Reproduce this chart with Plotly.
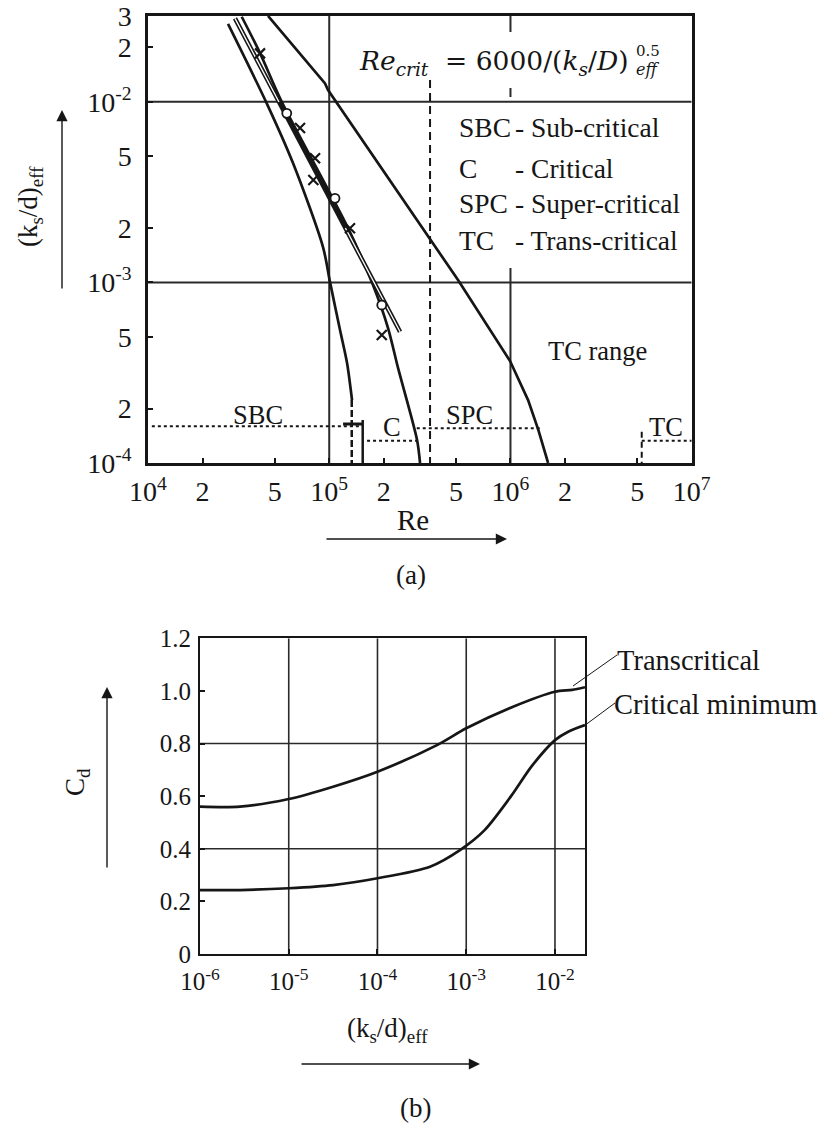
import plotly.graph_objects as go

W, H = 818, 1126
INK = "#161616"
GRID = "#2a2a2a"
FONT = "Liberation Serif, Times New Roman, Times, serif"
MATH_FONT = "DejaVu Serif, serif"

# ---------------- panel (a): effective roughness vs Reynolds number ----------------
# sub-critical / critical boundary curve
sbc_re = [27640, 45400, 63100, 92400, 101000, 114700, 125400, 133600]
sbc_k = [0.0270, 0.00972, 0.00458, 0.00157, 0.001005, 0.000545, 0.000358, 0.000223]
sbc_tail_re = [133100, 133100]
sbc_tail_k = [0.000223, 0.0001]

# straight Re_crit line through the measurements (drawn as a hollow stroke)
recrit_re = [30200, 245900]
recrit_k = [0.0290, 0.000533]
hollow_top_re = [30200, 52800]
hollow_top_k = [0.0290, 0.00998]
hollow_low_re = [122800, 245900]
hollow_low_k = [0.00200, 0.000533]

# critical / super-critical boundary curve
crit_re = [32900, 41500, 54700, 127000, 174400, 211100, 239700, 305200, 317000]
crit_k = [0.0296, 0.01863, 0.01001, 0.00200, 0.000967, 0.000559, 0.000336, 0.0001341, 0.0001]

# super-critical / trans-critical boundary curve
spc_re = [45950, 94800, 98500, 513800, 995000, 1251000, 1426000, 1613000]
spc_k = [0.0299, 0.01266, 0.01162, 0.001031, 0.000367, 0.000223, 0.000152, 0.0001]

# measured points
circle_re = [28970, 58300, 107600, 194900]
circle_k = [0.0300, 0.008635, 0.002923, 0.000750]
cross_re = [41500, 69000, 83500, 81700, 130200, 194900]
cross_k = [0.01856, 0.00716, 0.00487, 0.00369, 0.001993, 0.000511]

# regime bands along the bottom of the chart
sbc_band_re, sbc_band_k = [10500, 153000], [1.60e-4, 1.60e-4]
c_band_re, c_band_k = [161700, 304000], [1.33e-4, 1.33e-4]
spc_band_re, spc_band_k = [304000, 1457000], [1.56e-4, 1.56e-4]
tc_band_re, tc_band_k = [5.3e6, 1e7], [1.33e-4, 1.33e-4]

# vertical markers
recrit_mark_re, recrit_mark_k = [3.6e5, 3.6e5], [0.0132, 1e-4]
tc_mark_re, tc_mark_k = [5.3e6, 5.3e6], [1.49e-4, 1e-4]
onset_bar_re, onset_bar_k = [119200, 153000], [1.644e-4, 1.644e-4]
onset_post_re, onset_post_k = [153000, 153000], [1.73e-4, 1e-4]

# grid
re_min, re_max = 1e4, 1e7
k_min, k_max = 1e-4, 0.03
k_grid = [1e-2, 1e-3]
re_grid_full = 1e5
re_grid_1e6_parts = [[0.030, 0.02435], [0.01192, 0.01063], [0.001201, 1e-4]]

re_ticks = [1e4, 2e4, 5e4, 1e5, 2e5, 5e5, 1e6, 2e6, 5e6, 1e7]
re_ticktext = ["10<sup>4</sup>", "2", "5", "10<sup>5</sup>", "2", "5",
               "10<sup>6</sup>", "2", "5", "10<sup>7</sup>"]
k_ticks = [1e-4, 2e-4, 5e-4, 1e-3, 2e-3, 5e-3, 1e-2, 2e-2, 3e-2]
k_ticktext = ["10<sup>-4</sup>", "2", "5", "10<sup>-3</sup>", "2", "5",
              "10<sup>-2</sup>", "2", "3"]

# ---------------- panel (b): drag coefficient vs roughness ----------------
trans_ks = [1e-6, 2.82e-6, 1e-5, 3.16e-5, 1e-4, 4.68e-4, 1e-3, 3.37e-3, 1e-2, 1.56e-2, 2.18e-2]
trans_cd = [0.560, 0.560, 0.589, 0.636, 0.693, 0.794, 0.858, 0.940, 0.997, 1.004, 1.014]
crit_ks = [1e-6, 2.82e-6, 1e-5, 3.16e-5, 1e-4, 3.91e-4, 8.5e-4, 1.6e-3, 3.2e-3, 5.5e-3, 1e-2, 1.41e-2, 2.18e-2]
crit_cd = [0.243, 0.243, 0.250, 0.262, 0.288, 0.332, 0.395, 0.470, 0.600, 0.715, 0.813, 0.845, 0.870]

ks_min, ks_max = 1e-6, 2.18e-2
ks_grid = [1e-5, 1e-4, 1e-3, 1e-2]
cd_grid = [0.4, 0.8]
ks_ticks = [1e-6, 1e-5, 1e-4, 1e-3, 1e-2]
ks_ticktext = ["10<sup>-6</sup>", "10<sup>-5</sup>", "10<sup>-4</sup>",
               "10<sup>-3</sup>", "10<sup>-2</sup>"]
cd_ticks = [0, 0.2, 0.4, 0.6, 0.8, 1.0, 1.2]
cd_ticktext = ["0", "0.2", "0.4", "0.6", "0.8", "1.0", "1.2"]

fig = go.Figure()


def line(xs, ys, axes, width=2.5, color=INK, dash=None, shape="linear"):
    xa, ya = axes
    fig.add_trace(go.Scatter(
        x=xs, y=ys, xaxis=xa, yaxis=ya, mode="lines",
        line=dict(color=color, width=width, dash=dash, shape=shape, smoothing=0.8),
        hoverinfo="skip", showlegend=False))


A = ("x", "y")
B = ("x2", "y2")

# panel (a) grid
for kg in k_grid:
    line([re_min, re_max], [kg, kg], A, width=2, color=GRID)
line([re_grid_full, re_grid_full], [k_min, k_max], A, width=2, color=GRID)
for part in re_grid_1e6_parts:
    line([1e6, 1e6], part, A, width=2, color=GRID)

# panel (a) curves
line(sbc_re, sbc_k, A, width=2.7, shape="spline")
line(sbc_tail_re, sbc_tail_k, A, width=2.5, dash="7px,3px")
line(crit_re, crit_k, A, width=2.7, shape="spline")
line(spc_re, spc_k, A, width=2.7)
line(recrit_re, recrit_k, A, width=4.5)
line(hollow_top_re, hollow_top_k, A, width=1.3, color="white")
line(hollow_low_re, hollow_low_k, A, width=1.3, color="white")

# regime bands and markers
for bx, by in [(sbc_band_re, sbc_band_k), (c_band_re, c_band_k),
               (spc_band_re, spc_band_k), (tc_band_re, tc_band_k)]:
    line(bx, by, A, width=2, dash="dot")
line(recrit_mark_re, recrit_mark_k, A, width=2, dash="8px,5px")
line(tc_mark_re, tc_mark_k, A, width=2, dash="6px,4px")
line(onset_bar_re, onset_bar_k, A, width=3)
line(onset_post_re, onset_post_k, A, width=2.5)

fig.add_trace(go.Scatter(
    x=circle_re, y=circle_k, mode="markers", xaxis="x", yaxis="y",
    marker=dict(symbol="circle", size=9, color="white", line=dict(color=INK, width=1.8)),
    hoverinfo="skip", showlegend=False, cliponaxis=False))
fig.add_trace(go.Scatter(
    x=cross_re, y=cross_k, mode="markers", xaxis="x", yaxis="y",
    marker=dict(symbol="x-thin-open", size=10, color=INK, line=dict(color=INK, width=2.2)),
    hoverinfo="skip", showlegend=False))

# panel (b) grid
for g in ks_grid:
    line([g, g], [0, 1.2], B, width=1.6, color=GRID)
for g in cd_grid:
    line([ks_min, ks_max], [g, g], B, width=1.6, color=GRID)

# panel (b) curves
line(trans_ks, trans_cd, B, width=2.7, shape="spline")
line(crit_ks, crit_cd, B, width=2.7, shape="spline")

axis_common = dict(showline=True, mirror=True, linecolor=INK, showgrid=False,
                   zeroline=False, ticks="inside", tickcolor=INK, tickwidth=2,
                   ticklen=5, automargin=False)

fig.update_layout(
    template="none",
    width=W, height=H, autosize=False,
    margin=dict(l=0, r=0, t=0, b=0, pad=0),
    paper_bgcolor="white", plot_bgcolor="white",
    font=dict(family=FONT, color=INK),
    showlegend=False,
    xaxis=dict(type="log", range=[4, 7], domain=[148 / W, 691.7 / W], anchor="y",
               tickvals=re_ticks, ticktext=re_ticktext, linewidth=2.5,
               tickfont=dict(size=28, family=FONT, color=INK), ticklabelstandoff=2,
               **axis_common),
    yaxis=dict(type="log", range=[-4, -1.5229], domain=[1 - 463 / H, 1 - 15.7 / H], anchor="x",
               tickvals=k_ticks, ticktext=k_ticktext, linewidth=2.5,
               tickfont=dict(size=28, family=FONT, color=INK), ticklabelstandoff=8,
               **axis_common),
    xaxis2=dict(type="log", range=[-6, -1.6616], domain=[200 / W, 585 / W], anchor="y2",
                tickvals=ks_ticks, ticktext=ks_ticktext, linewidth=2,
                tickfont=dict(size=25, family=FONT, color=INK), ticklabelstandoff=4,
                **axis_common),
    yaxis2=dict(range=[0, 1.2], domain=[1 - 954 / H, 1 - 638.3 / H], anchor="x2",
                tickvals=cd_ticks, ticktext=cd_ticktext, linewidth=2,
                tickfont=dict(size=25, family=FONT, color=INK), ticklabelstandoff=2,
                **axis_common),
)


def text(t, px, py, size=26, xanchor="center", angle=0, family=FONT):
    fig.add_annotation(text=t, x=px / W, y=1 - py / H, xref="paper", yref="paper",
                       xanchor=xanchor, yanchor="middle", showarrow=False,
                       textangle=angle, font=dict(size=size, family=family, color=INK))


def arrow(hx, hy, tx, ty):
    fig.add_annotation(text="", x=hx / W, y=1 - hy / H, xref="paper", yref="paper",
                       ax=tx - hx, ay=ty - hy, showarrow=True, arrowhead=2,
                       arrowsize=1.6, arrowwidth=1.4, arrowcolor=INK)


NB = "\u00a0"

# panel (a) labels
text("(k<sub>s</sub>/d)<sub>eff</sub>", 30, 207, 27, angle=-90)
arrow(62, 110, 62, 290)
text("Re", 413, 520, 29)
arrow(507, 539, 325, 539)
text("(a)", 411, 575, 27)

text("<i>Re</i><sub><i>crit</i></sub>" + NB * 2 + "=" + NB
     + "6000/(<i>k</i><sub><i>s</i></sub>/<i>D</i>)",
     357, 62, 26.5, xanchor="left", family=MATH_FONT)
text("0.5", 634, 51, 15, xanchor="left", family=MATH_FONT)
text("<i>eff</i>", 634, 70, 16, xanchor="left", family=MATH_FONT)

legend_rows = [("SBC", "- Sub-critical", 128), ("C", "- Critical", 168),
               ("SPC", "- Super-critical", 204), ("TC", "- Trans-critical", 241)]
for abbr, desc, py in legend_rows:
    text(abbr, 457, py, 27.5, xanchor="left")
    text(desc, 513, py, 27.5, xanchor="left")

text("SBC", 258, 415, 26.5)
text("C", 392, 427, 26.5)
text("SPC", 469, 415, 26.5)
text("TC", 666, 427, 26.5)
text("TC range", 597, 351, 26.5)

# panel (b) labels
text("C<sub>d</sub>", 77, 782, 27, angle=-90)
arrow(107, 687, 107, 869)
text("(k<sub>s</sub>/d)<sub>eff</sub>", 387, 1030, 27)
arrow(480, 1064, 300, 1064)
text("(b)", 415, 1108, 27)
text("Transcritical", 615, 660, 28.5, xanchor="left")
text("Critical minimum", 612, 704, 28.5, xanchor="left")
for x0, y0, x1, y1 in [(573, 686, 617, 655), (583, 726.7, 615, 703)]:
    fig.add_shape(type="line", xref="paper", yref="paper",
                  x0=x0 / W, y0=1 - y0 / H, x1=x1 / W, y1=1 - y1 / H,
                  line=dict(color=INK, width=1))

fig.write_html("out.html")
